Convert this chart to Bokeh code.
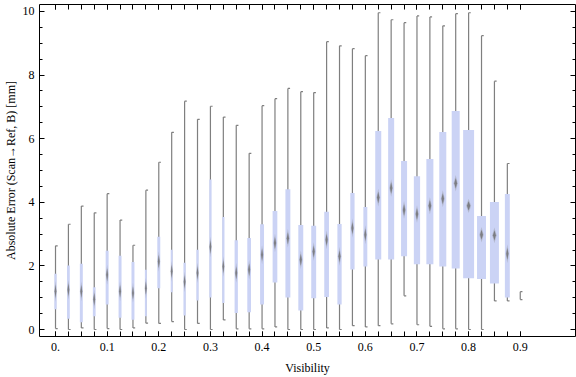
from bokeh.plotting import figure
from bokeh.models import Range1d, FixedTicker, LinearAxis, ColumnDataSource
from bokeh.embed import file_html
from bokeh.resources import INLINE

# ---- data ----
visibility = [0.0, 0.025, 0.05, 0.075, 0.1, 0.125, 0.15, 0.175, 0.2, 0.225,
              0.25, 0.275, 0.3, 0.325, 0.35, 0.375, 0.4, 0.425, 0.45, 0.475,
              0.5, 0.525, 0.55, 0.575, 0.6, 0.625, 0.65, 0.675, 0.7, 0.725,
              0.75, 0.775, 0.8, 0.825, 0.85, 0.875, 0.9]
err_min = [0.03, 0.0, 0.05, 0.0, 0.03, 0.0, 0.05, 0.2, 0.19, 0.25,
           0.0, 0.19, 0.0, 0.3, 0.02, 0.02, 0.02, 0.08, 0.0, 0.0,
           0.0, 0.05, 0.0, 0.12, 0.08, 0.12, 0.18, 1.06, 0.15, 0.1,
           0.02, 0.02, 0.0, 0.0, 0.9, 0.9, 0.94]
err_q1 = [0.64, 0.34, 0.23, 0.42, 0.79, 0.37, 0.31, 0.42, 1.30, 1.17,
          0.44, 0.91, 1.01, 0.83, 0.52, 0.54, 0.79, 1.48, 1.01, 0.60,
          0.98, 1.02, 0.79, 1.89, 1.98, 2.20, 2.20, 2.30, 2.05, 2.05,
          1.98, 1.92, 1.61, 1.59, 1.45, 1.01, 1.05]
err_median = [1.20, 1.25, 1.20, 0.95, 1.72, 1.20, 1.15, 1.30, 2.14, 1.83,
              1.50, 1.78, 2.60, 1.98, 1.78, 1.88, 2.35, 2.72, 2.87, 2.19,
              2.45, 2.82, 2.30, 3.19, 2.98, 4.15, 4.45, 3.76, 3.63, 3.89,
              4.11, 4.60, 3.89, 2.98, 2.96, 2.38, 1.08]
err_q3 = [1.75, 2.01, 2.07, 1.33, 2.48, 2.32, 2.12, 1.88, 2.92, 2.51,
          2.10, 2.51, 4.72, 3.54, 2.81, 2.88, 3.31, 3.73, 4.41, 3.29,
          3.26, 3.70, 3.32, 4.29, 3.85, 6.24, 6.65, 5.30, 4.82, 5.36,
          6.21, 6.87, 6.27, 3.57, 4.01, 4.26, 1.12]
err_max = [2.63, 3.31, 3.88, 3.67, 4.27, 3.44, 2.65, 4.38, 5.26, 6.20,
           7.18, 6.61, 7.02, 6.68, 6.42, 5.54, 7.04, 7.26, 7.58, 7.48,
           7.45, 9.05, 8.92, 8.83, 8.61, 9.96, 9.74, 9.65, 9.86, 9.83,
           9.55, 9.93, 9.96, 9.24, 7.81, 5.22, 1.19]
# relative box weight (box width relative to the widest box)
box_weight = [0.21, 0.25, 0.27, 0.25, 0.27, 0.27, 0.27, 0.18, 0.27, 0.18,
              0.21, 0.21, 0.21, 0.21, 0.30, 0.34, 0.36, 0.43, 0.45, 0.45,
              0.45, 0.43, 0.39, 0.39, 0.36, 0.55, 0.55, 0.55, 0.57, 0.64,
              0.64, 0.73, 1.00, 0.82, 0.82, 0.45, 0.0]

x_tick_values = [0.0, 0.1, 0.2, 0.3, 0.4, 0.5, 0.6, 0.7, 0.8, 0.9]
x_tick_labels = ["0.", "0.1", "0.2", "0.3", "0.4", "0.5", "0.6", "0.7", "0.8", "0.9"]
y_tick_values = [0, 2, 4, 6, 8, 10]
y_minor_values = [0.5, 1, 1.5, 2.5, 3, 3.5, 4.5, 5, 5.5, 6.5, 7, 7.5, 8.5, 9, 9.5]

# ---- geometry / style ----
X0, X1 = -0.031, 1.007
Y0, Y1 = -0.22, 10.22
PX_X = 518.6   # px per x unit in reference
PX_Y = 31.9    # px per y unit in reference
MAX_W = 11.0 / PX_X
FONT = "Liberation Serif"

p = figure(width=576, height=377, x_range=Range1d(X0, X1), y_range=Range1d(Y0, Y1),
           output_backend="svg", toolbar_location=None,
           min_border_left=37, min_border_right=1, min_border_top=4, min_border_bottom=40)
p.grid.visible = False
p.outline_line_color = None
p.background_fill_color = "white"
p.border_fill_color = "white"

xt = FixedTicker(ticks=x_tick_values, minor_ticks=visibility)
yt = FixedTicker(ticks=y_tick_values, minor_ticks=y_minor_values)

p.xaxis.ticker = xt
p.yaxis.ticker = yt
p.add_layout(LinearAxis(ticker=xt), "above")
p.add_layout(LinearAxis(ticker=yt), "right")

for ax in p.xaxis + p.yaxis:
    ax.axis_line_color = "black"
    ax.axis_line_width = 1
    ax.major_tick_line_color = "black"
    ax.minor_tick_line_color = "black"
    ax.major_tick_out = 0
    ax.minor_tick_out = 0
    ax.major_label_text_font = FONT
    ax.major_label_text_font_size = "12px"
    ax.major_label_text_color = "black"
    ax.major_label_text_line_height = 1.0
    ax.axis_label_text_font = FONT
    ax.axis_label_text_font_size = "12px"
    ax.axis_label_text_font_style = "normal"
    ax.axis_label_text_color = "black"
    ax.axis_label_text_line_height = 1.0

for ax in p.xaxis:
    ax.major_tick_in = 5
    ax.minor_tick_in = 5
for ax in p.yaxis:
    ax.major_tick_in = 5
    ax.minor_tick_in = 3

p.below[0].major_label_overrides = {v: s for v, s in zip(x_tick_values, x_tick_labels)}
p.below[0].major_label_standoff = 6
p.below[0].axis_label = "Visibility"
p.below[0].axis_label_standoff = 7
p.left[0].major_label_standoff = 5
p.left[0].axis_label = "Absolute Error (Scan\u2192Ref, B) [mm]"
p.left[0].axis_label_standoff = 2
p.above[0].major_label_overrides = {v: "" for v in x_tick_values}
p.right[0].major_label_overrides = {v: "" for v in y_tick_values}
for ax in (p.above[0], p.right[0]):
    ax.major_label_standoff = 0

# ---- derived glyph geometry ----
widths = [w * MAX_W for w in box_weight]
cap = 2.2 / PX_X

src = ColumnDataSource(dict(
    x=visibility, lo=err_min, q1=err_q1, q3=err_q3, hi=err_max,
    left=[x - w / 2 for x, w in zip(visibility, widths)],
    right=[x + w / 2 for x, w in zip(visibility, widths)],
    capx=[x + cap for x in visibility],
))

gray = "#7f7f7f"
p.segment(x0="x", y0="lo", x1="x", y1="hi", source=src, line_color=gray, line_width=1.2)
p.segment(x0="x", y0="hi", x1="capx", y1="hi", source=src, line_color=gray, line_width=1.2)
p.segment(x0="x", y0="lo", x1="capx", y1="lo", source=src, line_color=gray, line_width=1.2)
p.quad(left="left", right="right", bottom="q1", top="q3", source=src,
       fill_color="#cbd3f5", line_color=None)

# median diamonds (two layers to imitate the soft gradient)
def diamonds(scale):
    xs, ys = [], []
    for x, m, w in zip(visibility, err_median, widths):
        if w <= 0:
            continue
        wpx = w * PX_X
        hw = (1.0 + 0.14 * wpx) * scale / PX_X
        hh = (11.0 - 0.35 * wpx) * scale / PX_Y
        xs.append([x - hw, x, x + hw, x])
        ys.append([m, m + hh, m, m - hh])
    return xs, ys

xs, ys = diamonds(1.0)
p.patches(xs, ys, fill_color="#8a8a8a", fill_alpha=0.35, line_color=None)
xs, ys = diamonds(0.65)
p.patches(xs, ys, fill_color="#6a6a6a", fill_alpha=0.75, line_color=None)

open("out.html", "w").write(file_html(p, INLINE))
